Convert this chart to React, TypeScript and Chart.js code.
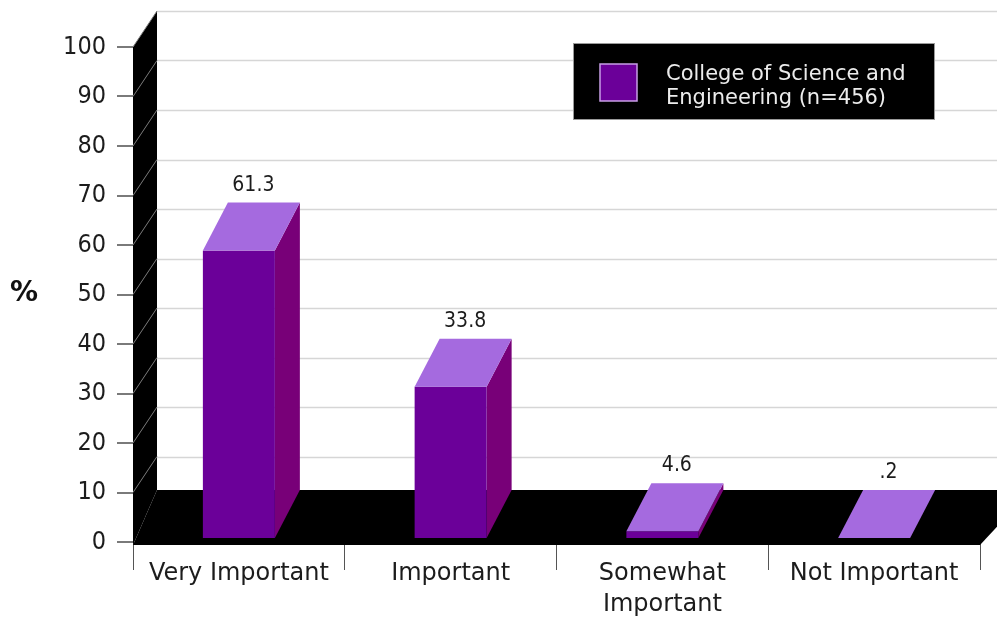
import { useEffect, useRef } from 'react';
import { Chart, registerables } from 'chart.js';

Chart.register(...registerables);

// Survey categories and percentages
const categories: (string | string[])[] = ['Very Important', 'Important', ['Somewhat', 'Important'], 'Not Important'];
const values = [61.3, 33.8, 4.6, 0.2];
const valueLabels = ['61.3', '33.8', '4.6', '.2'];
const seriesLabel = ['College of Science and', 'Engineering (n=456)'];
const yMin = 0;
const yMax = 100;
const yStep = 10;
const axisTitle = '%';

const NUM_FONT = "'DejaVu Sans Condensed', 'DejaVu Sans', sans-serif";
const WORD_FONT = "'DejaVu Sans', sans-serif";

// pseudo-3D geometry
const WALL_DX = 24;
const WALL_DY = 36;
const BAR_DX = 25;
const BAR_DY = 48;
const FLOOR_BACK = 52;
const FLOOR_FRONT = 3;

const COLORS = {
  front: '#6b0099',
  top: '#a56adf',
  side: '#780078',
  grid: '#d6d6d6',
  wallLine: '#7c7c7c',
  text: '#1c1c1c',
};

const stage3d = {
  id: 'stage3d',
  beforeDatasetsDraw(chart: any) {
    const { ctx, chartArea, scales } = chart;
    const y = scales.y;
    const L = chartArea.left;
    const R = chartArea.right;
    const base = y.getPixelForValue(0);
    const top = y.getPixelForValue(yMax);
    const floorTop = base - FLOOR_BACK;
    ctx.save();

    // back wall grid lines
    ctx.strokeStyle = COLORS.grid;
    ctx.lineWidth = 1.5;
    y.ticks.forEach((t: any) => {
      if (t.value === 0) return;
      const py = Math.round(y.getPixelForValue(t.value) - WALL_DY) + 0.5;
      ctx.beginPath();
      ctx.moveTo(L + WALL_DX, py);
      ctx.lineTo(chart.width, py);
      ctx.stroke();
    });

    // black floor slab
    ctx.fillStyle = '#000';
    ctx.beginPath();
    ctx.moveTo(L, base + FLOOR_FRONT);
    ctx.lineTo(R, base + FLOOR_FRONT);
    ctx.lineTo(R + 0.93 * (FLOOR_BACK + FLOOR_FRONT), floorTop);
    ctx.lineTo(L + WALL_DX, floorTop);
    ctx.closePath();
    ctx.fill();

    // black left wall
    ctx.beginPath();
    ctx.moveTo(L, top);
    ctx.lineTo(L + WALL_DX, top - WALL_DY);
    ctx.lineTo(L + WALL_DX, floorTop);
    ctx.lineTo(L, base + FLOOR_FRONT);
    ctx.closePath();
    ctx.fill();

    // grid lines running across the wall
    ctx.strokeStyle = COLORS.wallLine;
    ctx.lineWidth = 1;
    y.ticks.forEach((t: any) => {
      if (t.value === 0) return;
      const py = y.getPixelForValue(t.value);
      ctx.beginPath();
      ctx.moveTo(L, py);
      ctx.lineTo(L + WALL_DX, py - WALL_DY);
      ctx.stroke();
    });
    ctx.restore();
  },
  afterDatasetsDraw(chart: any) {
    const { ctx, scales } = chart;
    const y = scales.y;
    const base = y.getPixelForValue(0);
    const floorTop = base - FLOOR_BACK;
    const frontBottom = base - 4;
    const meta = chart.getDatasetMeta(0);
    ctx.save();
    meta.data.forEach((bar: any, i: number) => {
      const w = bar.width;
      const x0 = bar.x - w / 2;
      const x1 = bar.x + w / 2;
      const back = Math.min(y.getPixelForValue(values[i]) - WALL_DY, floorTop);
      const frontTop = Math.min(back + BAR_DY, frontBottom);

      // right side face
      ctx.fillStyle = COLORS.side;
      ctx.beginPath();
      ctx.moveTo(x1, frontTop);
      ctx.lineTo(x1 + BAR_DX, frontTop - BAR_DY);
      ctx.lineTo(x1 + BAR_DX, frontBottom - BAR_DY);
      ctx.lineTo(x1, frontBottom);
      ctx.closePath();
      ctx.fill();

      // front face
      if (frontBottom > frontTop) {
        ctx.fillStyle = COLORS.front;
        ctx.fillRect(x0, frontTop, w, frontBottom - frontTop);
      }

      // top face
      ctx.fillStyle = COLORS.top;
      ctx.beginPath();
      ctx.moveTo(x0, frontTop);
      ctx.lineTo(x1, frontTop);
      ctx.lineTo(x1 + BAR_DX, frontTop - BAR_DY);
      ctx.lineTo(x0 + BAR_DX, frontTop - BAR_DY);
      ctx.closePath();
      ctx.fill();

      // value label
      ctx.fillStyle = COLORS.text;
      ctx.font = `21px ${NUM_FONT}`;
      ctx.textAlign = 'center';
      ctx.textBaseline = 'alphabetic';
      ctx.fillText(valueLabels[i], bar.x + BAR_DX / 2 + 2, frontTop - BAR_DY - 12);
    });

    // legend box
    const lx = 573;
    const ly = 43;
    const lw = 362;
    const lh = 77;
    ctx.fillStyle = '#000';
    ctx.fillRect(lx, ly, lw, lh);
    ctx.strokeStyle = '#9a9a9a';
    ctx.lineWidth = 1;
    ctx.strokeRect(lx + 0.5, ly + 0.5, lw - 1, lh - 1);
    ctx.fillStyle = COLORS.front;
    ctx.fillRect(lx + 27, ly + 21, 37, 37);
    ctx.strokeStyle = '#c89ee6';
    ctx.lineWidth = 1.5;
    ctx.strokeRect(lx + 27, ly + 21, 37, 37);
    ctx.fillStyle = '#ececec';
    ctx.font = `21px ${WORD_FONT}`;
    ctx.textAlign = 'left';
    ctx.textBaseline = 'alphabetic';
    seriesLabel.forEach((line, k) => {
      ctx.fillText(line, lx + 93, ly + 37 + k * 24);
    });

    // axis title
    ctx.fillStyle = '#111';
    ctx.font = `bold 28px ${WORD_FONT}`;
    ctx.textAlign = 'center';
    ctx.textBaseline = 'middle';
    ctx.fillText(axisTitle, 24, 294);
    ctx.restore();
  },
};

export default function App() {
  const canvasRef = useRef<HTMLCanvasElement | null>(null);

  useEffect(() => {
    if (!canvasRef.current) return;
    const chart = new Chart(canvasRef.current, {
      type: 'bar',
      data: {
        labels: categories as any,
        datasets: [
          {
            label: seriesLabel.join(' '),
            data: values,
            backgroundColor: 'rgba(0,0,0,0)',
            borderWidth: 0,
            barPercentage: 0.34,
            categoryPercentage: 1,
          },
        ],
      },
      options: {
        animation: false,
        responsive: false,
        maintainAspectRatio: false,
        layout: { padding: { top: 47, right: 17, left: 0, bottom: 0 } },
        plugins: {
          legend: { display: false },
          tooltip: { enabled: false },
        },
        scales: {
          x: {
            offset: true,
            grid: {
              display: true,
              offset: true,
              drawOnChartArea: false,
              drawTicks: true,
              tickLength: 28,
              color: '#555',
              lineWidth: 1,
            },
            border: { display: false },
            ticks: {
              autoSkip: false,
              maxRotation: 0,
              minRotation: 0,
              padding: -12,
              color: COLORS.text,
              font: { family: WORD_FONT, size: 24, lineHeight: 1.29 },
            },
            afterFit: (scale: any) => {
              scale.height = 75;
            },
          },
          y: {
            min: yMin,
            max: yMax,
            grid: {
              display: true,
              drawOnChartArea: false,
              drawTicks: true,
              tickLength: 16,
              color: '#7a7a7a',
              lineWidth: 2,
            },
            border: { display: false },
            ticks: {
              stepSize: yStep,
              padding: 11,
              color: COLORS.text,
              font: { family: NUM_FONT, size: 25 },
            },
            afterFit: (scale: any) => {
              scale.width = 133;
            },
          },
        },
      },
      plugins: [stage3d],
    });
    return () => chart.destroy();
  }, []);

  return (
    <div style={{ position: 'fixed', left: 0, top: 0, width: 997, height: 617, background: '#fff' }}>
      <canvas ref={canvasRef} width={997} height={617} style={{ display: 'block' }} />
    </div>
  );
}
